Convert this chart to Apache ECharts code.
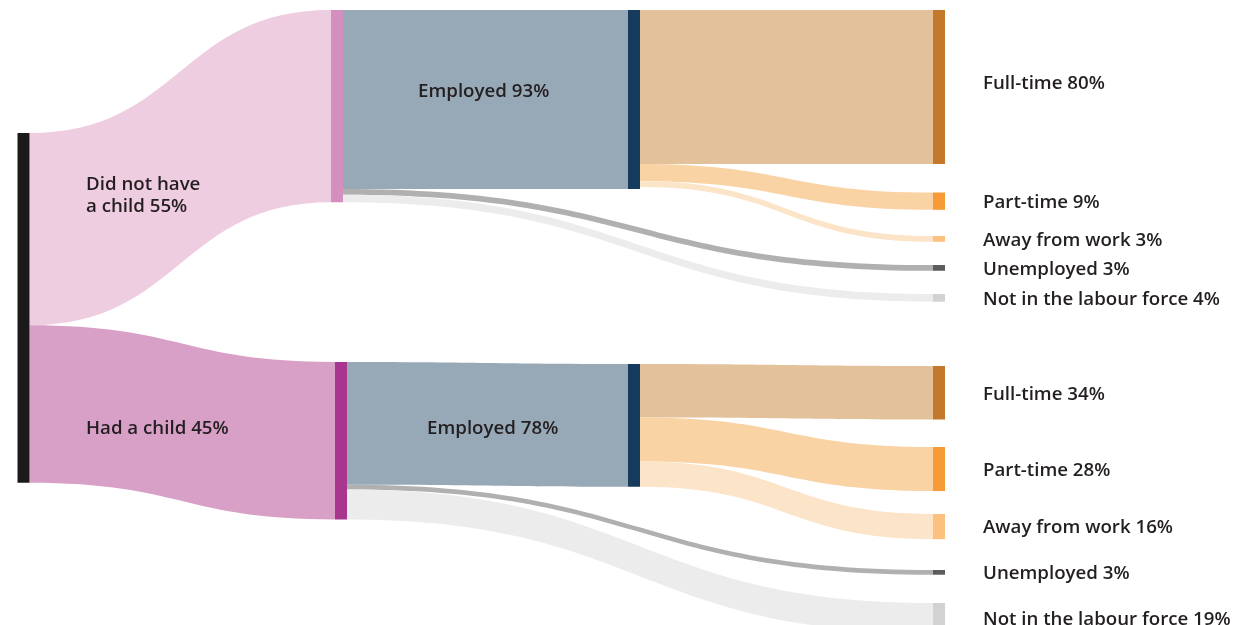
<!DOCTYPE html>
<html>
<head>
<meta charset="utf-8">
<title>Labour force status by whether a child was had</title>
<script src="https://cdn.jsdelivr.net/npm/echarts@6/dist/echarts.min.js"></script>
<style>
  html, body { margin: 0; padding: 0; background: #ffffff; }
  #chart { width: 1240px; height: 625px; }
</style>
</head>
<body>
<div id="chart"></div>
<script>
// ---- Data -------------------------------------------------------------
// Share of all respondents in each group (%)
const groups = ['Did not have a child', 'Had a child'];
const groupLabels = ['Did not have\na child', 'Had a child'];
const groupShare = [55, 45];

// Labour force status, as % of each group
const employedPct = [93, 78];
const fullTimePct = [80, 34];
const partTimePct = [9, 28];
const awayPct = [3, 16];
const unemployedPct = [3, 3];
const notInLabourForcePct = [4, 19];

// ---- Layout & style ---------------------------------------------------
const W = 1240, H = 625;
const placement = {
  root: { x: 17.5, y: 133 },
  group: [{ x: 331, y: 10 }, { x: 335, y: 362 }],
  employed: [{ x: 628, y: 10 }, { x: 628, y: 364 }],
  outcomeX: 933,
  outcomeY: [[10, 192.5, 236, 265, 294], [366, 447, 514, 570, 603]]
};
const groupLabelPos = [[-245, 186], [-249, 67]];
const employedLabelPos = [[-210, 82], [-201, 65]];

const colors = {
  root: '#1a1a1a',
  group: ['#d58fbf', '#a8368f'],
  groupLink: ['#efcde1', '#d8a0c7'],
  employed: '#163b5c', employedLink: '#97a8b7',
  fullTime: '#c4782b', fullTimeLink: '#e3c19a',
  partTime: '#f69b35', partTimeLink: '#fad3a4',
  away: '#fcc07f', awayLink: '#fce4c8',
  unemployed: '#5c5c5c', unemployedLink: '#b0b0b0',
  nilf: '#d2d2d2', nilfLink: '#ebeceb'
};

// ---- Build nodes and links -------------------------------------------
const nodes = [];
const links = [];
const at = (p) => ({ localX: p.x / W, localY: p.y / H });

nodes.push(Object.assign({
  name: 'All', depth: 0,
  itemStyle: { color: colors.root },
  label: { show: false }
}, at(placement.root)));

const outcomes = [
  { key: 'Full-time', pct: fullTimePct, node: colors.fullTime, link: colors.fullTimeLink, from: 'employed' },
  { key: 'Part-time', pct: partTimePct, node: colors.partTime, link: colors.partTimeLink, from: 'employed' },
  { key: 'Away from work', pct: awayPct, node: colors.away, link: colors.awayLink, from: 'employed' },
  { key: 'Unemployed', pct: unemployedPct, node: colors.unemployed, link: colors.unemployedLink, from: 'group' },
  { key: 'Not in the labour force', pct: notInLabourForcePct, node: colors.nilf, link: colors.nilfLink, from: 'group' }
];

groups.forEach((g, i) => {
  const share = groupShare[i];
  const groupName = g;
  const employedName = 'Employed · ' + g;

  nodes.push(Object.assign({
    name: groupName, depth: 1,
    itemStyle: { color: colors.group[i] },
    label: {
      position: groupLabelPos[i], align: 'left', verticalAlign: 'middle',
      formatter: groupLabels[i] + ' ' + share + '%'
    }
  }, at(placement.group[i])));

  nodes.push(Object.assign({
    name: employedName, depth: 2,
    itemStyle: { color: colors.employed },
    label: {
      position: employedLabelPos[i], align: 'left', verticalAlign: 'middle',
      formatter: 'Employed ' + employedPct[i] + '%'
    }
  }, at(placement.employed[i])));

  links.push({ source: 'All', target: groupName, value: share,
    lineStyle: { color: colors.groupLink[i] } });
  links.push({ source: groupName, target: employedName, value: share * employedPct[i] / 100,
    lineStyle: { color: colors.employedLink } });

  outcomes.forEach((o, k) => {
    const name = o.key + ' · ' + g;
    const label = {
      formatter: o.key + ' ' + o.pct[i] + '%',
      offset: (i === 0 && k === 0) ? [0, -3.5] : [0, 1.5]
    };
    nodes.push(Object.assign({
      name: name, depth: 3,
      itemStyle: { color: o.node },
      label: label
    }, at({ x: placement.outcomeX, y: placement.outcomeY[i][k] })));
    links.push({
      source: o.from === 'employed' ? employedName : groupName,
      target: name,
      value: share * o.pct[i] / 100,
      lineStyle: { color: o.link }
    });
  });
});

// ---- Chart --------------------------------------------------------------
const chart = echarts.init(document.getElementById('chart'), null, { renderer: 'canvas' });
chart.setOption({
  backgroundColor: '#ffffff',
  animation: false,
  tooltip: { show: false },
  series: [{
    type: 'sankey',
    left: 0, top: 0, right: 0, bottom: 0,
    nodeWidth: 12,
    nodeGap: 30.8,
    nodeAlign: 'left',
    layoutIterations: 0,
    draggable: false,
    emphasis: { disabled: true },
    itemStyle: { borderWidth: 0 },
    lineStyle: { opacity: 1, curveness: 0.5 },
    label: {
      show: true,
      position: 'right',
      distance: 38,
      color: '#231f20',
      fontFamily: '"Open Sans", Lato, sans-serif',
      fontWeight: 600,
      fontSize: 18.7,
      lineHeight: 22
    },
    data: nodes,
    links: links
  }]
});
</script>
</body>
</html>
